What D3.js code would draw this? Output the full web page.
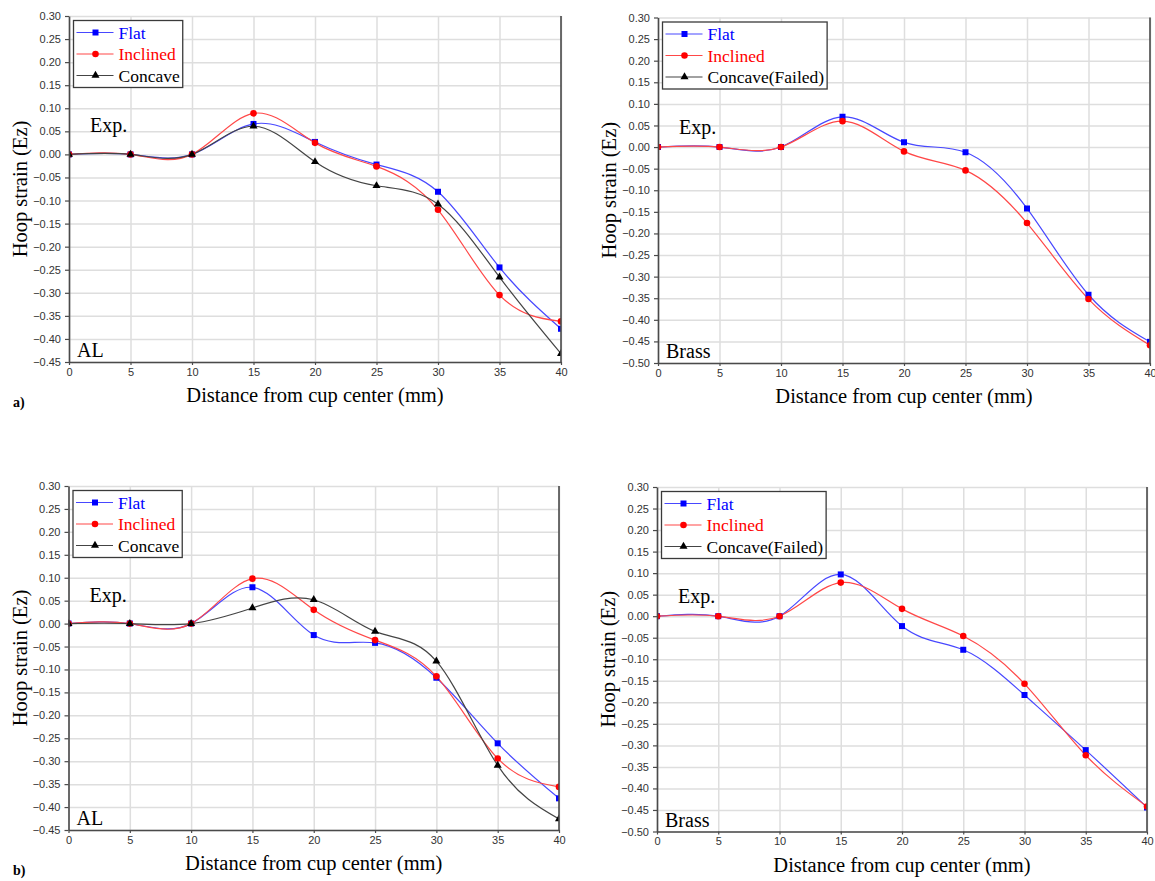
<!DOCTYPE html>
<html>
<head>
<meta charset="utf-8">
<script src="https://cdn.jsdelivr.net/npm/d3@7"></script>
<style>
  body { margin: 0; background: #fff; }
</style>
</head>
<body>
<svg id="chart" width="1155" height="881"></svg>
<script>
/* eslint-disable no-undef */

// distance from cup center (mm)
const distance = [0, 5, 10, 15, 20, 25, 30, 35, 40];
const xTicks = [0, 5, 10, 15, 20, 25, 30, 35, 40];
const yTicksAL = [0.30, 0.25, 0.20, 0.15, 0.10, 0.05, 0.00, -0.05, -0.10, -0.15,
  -0.20, -0.25, -0.30, -0.35, -0.40, -0.45];
const yTicksBrass = [0.30, 0.25, 0.20, 0.15, 0.10, 0.05, 0.00, -0.05, -0.10, -0.15,
  -0.20, -0.25, -0.30, -0.35, -0.40, -0.45, -0.50];

// a) hoop strain
const alFlatA = [0, 0, 0, 0.066, 0.027, -0.022, -0.081, -0.245, -0.378];
const alInclinedA = [0, 0, 0, 0.089, 0.025, -0.026, -0.120, -0.305, -0.362];
const alConcaveA = [0, 0, 0, 0.061, -0.016, -0.068, -0.108, -0.266, -0.432];
const brassFlatA = [0, 0, 0, 0.070, 0.011, -0.012, -0.142, -0.342, -0.451];
const brassInclinedA = [0, 0, 0, 0.060, -0.010, -0.054, -0.176, -0.352, -0.459];

// b) hoop strain
const alFlatB = [0, 0, 0, 0.079, -0.025, -0.042, -0.118, -0.261, -0.381];
const alInclinedB = [0, 0, 0, 0.098, 0.030, -0.036, -0.115, -0.294, -0.356];
const alConcaveB = [0, 0, 0, 0.034, 0.052, -0.017, -0.082, -0.309, -0.426];
const brassFlatB = [0, 0, 0, 0.097, -0.023, -0.078, -0.183, -0.311, -0.444];
const brassInclinedB = [0, 0, 0, 0.078, 0.017, -0.046, -0.157, -0.323, -0.442];

const legendLabels = ['Flat', 'Inclined', 'Concave'];
const legendLabelsBrass = ['Flat', 'Inclined', 'Concave(Failed)'];

const SERIF = "'Liberation Serif', 'Times New Roman', serif";
const SANS = "'Liberation Sans', Arial, sans-serif";

const styles = [
  { line: '#4848ff', mark: '#0000ff', text: '#0000ff', symbol: d3.symbolSquare, size: 36 },
  { line: '#ff4848', mark: '#ff0000', text: '#ff0000', symbol: d3.symbolCircle, size: 34 },
  { line: '#444444', mark: '#000000', text: '#000000', symbol: d3.symbolTriangle, size: 28 },
];

const svg = d3.select('svg#chart');
let clipCount = 0;

const drawPanel = (p) => {
  const g = svg.append('g');
  const x = d3.scaleLinear().domain([0, 40]).range([p.left, p.right]);
  const y = d3.scaleLinear()
    .domain([p.yTicks[p.yTicks.length - 1], p.yTicks[0]])
    .range([p.bottom, p.top]);

  // grid
  g.append('g')
    .attr('transform', `translate(${p.left},0)`)
    .call(d3.axisLeft(y).tickValues(p.yTicks).tickSize(-(p.right - p.left)).tickFormat(''))
    .call((s) => s.select('.domain').remove())
    .selectAll('line')
    .attr('stroke', '#dedede')
    .attr('stroke-width', 1.5);
  g.append('g')
    .attr('transform', `translate(0,${p.bottom})`)
    .call(d3.axisBottom(x).tickValues(xTicks).tickSize(-(p.bottom - p.top)).tickFormat(''))
    .call((s) => s.select('.domain').remove())
    .selectAll('line')
    .attr('stroke', '#dedede')
    .attr('stroke-width', 1.5);

  // series
  clipCount += 1;
  const clipId = `clip${clipCount}`;
  g.append('clipPath').attr('id', clipId)
    .append('rect')
    .attr('x', p.left).attr('y', p.top)
    .attr('width', p.right - p.left).attr('height', p.bottom - p.top);

  const plot = g.append('g').attr('clip-path', `url(#${clipId})`);
  const lineFunction = d3.line()
    .x((val, idx) => x(distance[idx]))
    .y((val) => y(val))
    .curve(d3.curveNatural);

  p.series.forEach((values, i) => {
    if (!values) return;
    plot.append('path')
      .attr('d', lineFunction(values))
      .attr('fill', 'none')
      .attr('stroke', styles[i].line)
      .attr('stroke-width', 1.2);
  });
  p.series.forEach((values, i) => {
    if (!values) return;
    plot.selectAll(null)
      .data(values)
      .enter()
      .append('path')
      .attr('d', d3.symbol().type(styles[i].symbol).size(styles[i].size))
      .attr('transform', (val, idx) => `translate(${x(distance[idx])},${y(val)})`)
      .attr('fill', styles[i].mark);
  });

  // axes
  const xAxis = g.append('g')
    .attr('transform', `translate(0,${p.bottom})`)
    .call(d3.axisBottom(x).tickValues(xTicks).tickSize(3).tickPadding(3)
      .tickSizeOuter(0).tickFormat(d3.format('d')));
  const yAxis = g.append('g')
    .attr('transform', `translate(${p.left},0)`)
    .call(d3.axisLeft(y).tickValues(p.yTicks).tickSize(4).tickPadding(4)
      .tickSizeOuter(0).tickFormat(d3.format('.2f')));
  [xAxis, yAxis].forEach((a) => {
    a.select('.domain').attr('stroke', '#4a4a4a').attr('stroke-width', 1.6);
    a.selectAll('.tick line').attr('stroke', '#4a4a4a').attr('stroke-width', 1.2);
    a.selectAll('.tick text')
      .attr('font-family', SANS)
      .attr('font-size', '11px')
      .attr('fill', '#333333');
  });
  g.append('line')
    .attr('x1', p.right).attr('x2', p.right)
    .attr('y1', p.top).attr('y2', p.bottom)
    .attr('stroke', '#4a4a4a')
    .attr('stroke-width', 1.6);

  // titles
  g.append('text')
    .attr('x', (p.left + p.right) / 2)
    .attr('y', p.bottom + 40)
    .attr('text-anchor', 'middle')
    .attr('font-family', SERIF)
    .attr('font-size', '20.5px')
    .attr('fill', '#000')
    .text('Distance from cup center (mm)');
  g.append('text')
    .attr('transform', `translate(${p.left - 42},${(p.top + p.bottom) / 2}) rotate(-90)`)
    .attr('text-anchor', 'middle')
    .attr('font-family', SERIF)
    .attr('font-size', '20.5px')
    .attr('fill', '#000')
    .text('Hoop strain (Ez)');

  g.append('text')
    .attr('x', p.left + 21)
    .attr('y', p.top + 116)
    .attr('font-family', SERIF)
    .attr('font-size', '20px')
    .attr('fill', '#000')
    .text('Exp.');
  g.append('text')
    .attr('x', p.left + 8)
    .attr('y', p.bottom - 5)
    .attr('font-family', SERIF)
    .attr('font-size', '20px')
    .attr('fill', '#000')
    .text(p.material);

  // legend
  const lg = g.append('g').attr('transform', `translate(${p.left + 4.5},${p.top + 4.5})`);
  const box = lg.append('rect')
    .attr('fill', '#fff')
    .attr('stroke', '#3a3a3a')
    .attr('stroke-width', 1.3)
    .attr('height', 67);
  let maxW = 0;
  p.labels.forEach((label, i) => {
    const row = lg.append('g').attr('transform', `translate(0,${12 + i * 21.5})`);
    row.append('line')
      .attr('x1', 3).attr('x2', 40)
      .attr('stroke', styles[i].line)
      .attr('stroke-width', 1.2);
    row.append('path')
      .attr('d', d3.symbol().type(styles[i].symbol).size(styles[i].size))
      .attr('transform', 'translate(22,0)')
      .attr('fill', styles[i].mark);
    const t = row.append('text')
      .attr('x', 45)
      .attr('dy', '0.35em')
      .attr('font-family', SERIF)
      .attr('font-size', '17.5px')
      .attr('fill', styles[i].text)
      .text(label);
    maxW = Math.max(maxW, t.node().getComputedTextLength());
  });
  box.attr('width', 45 + maxW + 3);
};

drawPanel({
  left: 69, right: 561, top: 16, bottom: 362,
  yTicks: yTicksAL, material: 'AL', labels: legendLabels,
  series: [alFlatA, alInclinedA, alConcaveA],
});
drawPanel({
  left: 658, right: 1150, top: 17.5, bottom: 363,
  yTicks: yTicksBrass, material: 'Brass', labels: legendLabelsBrass,
  series: [brassFlatA, brassInclinedA, null],
});
drawPanel({
  left: 68.5, right: 559, top: 486, bottom: 830,
  yTicks: yTicksAL, material: 'AL', labels: legendLabels,
  series: [alFlatB, alInclinedB, alConcaveB],
});
drawPanel({
  left: 657, right: 1147, top: 487, bottom: 831.5,
  yTicks: yTicksBrass, material: 'Brass', labels: legendLabelsBrass,
  series: [brassFlatB, brassInclinedB, null],
});

// sub-figure letters
svg.append('text')
  .attr('x', 13).attr('y', 407)
  .attr('font-family', SERIF).attr('font-size', '14px').attr('font-weight', 'bold')
  .text('a)');
svg.append('text')
  .attr('x', 13).attr('y', 875)
  .attr('font-family', SERIF).attr('font-size', '14px').attr('font-weight', 'bold')
  .text('b)');
</script>
</body>
</html>
